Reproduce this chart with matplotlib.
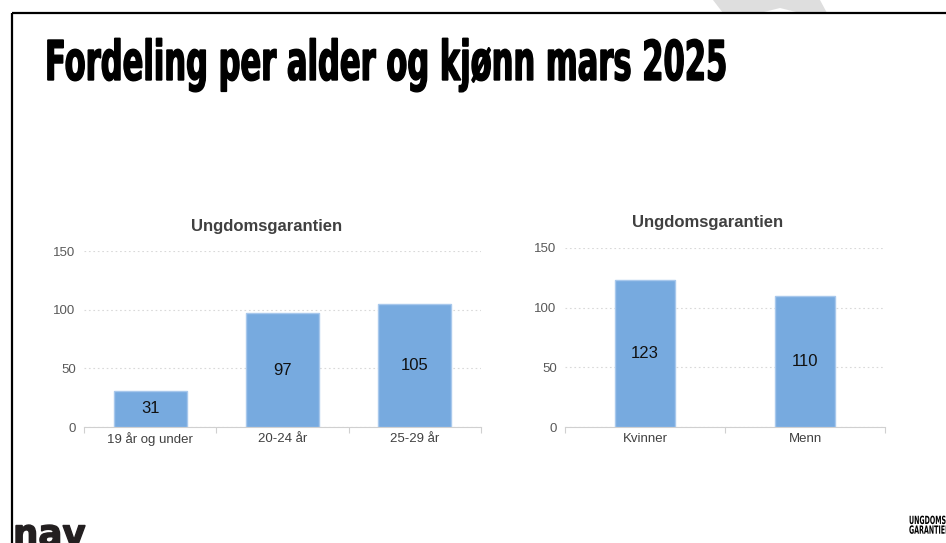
import matplotlib
matplotlib.use("Agg")
import matplotlib.pyplot as plt, numpy as np
from matplotlib.patheffects import AbstractPathEffect
from matplotlib.transforms import Affine2D

# data
alder_kat = ["19 år og under", "20-24 år", "25-29 år"]
alder_ant = [31, 97, 105]
kjonn_kat = ["Kvinner", "Menn"]
kjonn_ant = [123, 110]
y_ticks = [0, 50, 100, 150]
tittel = "Fordeling per alder og kjønn mars 2025"
diagram_tittel = "Ungdomsgarantien"

W, H = 946, 543
plt.rcParams["font.family"] = ["Liberation Sans", "DejaVu Sans"]

fig = plt.figure(figsize=(W / 100, H / 100), dpi=100)


def px(x, y):  # pixel (from top-left) -> figure coords
    return x / W, 1 - y / H


class Stretch(AbstractPathEffect):
    # scale text glyphs around baseline origin (condensed display font look), optional stroke to embolden
    def __init__(self, sx, sy, lw=0):
        super().__init__()
        self.sx, self.sy, self.lw = sx, sy, lw

    def draw_path(self, renderer, gc, tpath, affine, rgbFace=None):
        x0, y0 = affine.transform((0, 0))
        aff = affine + Affine2D().translate(-x0, -y0).scale(self.sx, self.sy).translate(x0, y0)
        gc0 = renderer.new_gc()
        gc0.copy_properties(gc)
        gc0.set_linewidth(self.lw)
        gc0.set_joinstyle("miter")
        renderer.draw_path(gc0, tpath, aff, rgbFace)
        gc0.restore()


# slide decorations in a pixel-space background axes
bg = fig.add_axes([0, 0, 1, 1], zorder=-1)
bg.set_xlim(0, W)
bg.set_ylim(H, 0)
bg.axis("off")
bg.fill([713, 820, 827, 800, 780, 760, 723], [0, 0, 13, 13, 8, 13, 13], color="#dedede", lw=0)
bg.plot([12, W], [13, 13], color="black", lw=1.6, solid_capstyle="butt")
bg.plot([12, 12], [13, H], color="black", lw=1.6, solid_capstyle="butt")

# title, stretched vertically
t = fig.text(*px(45, 80), tittel, fontsize=26, fontweight="bold", family="DejaVu Sans", va="baseline", ha="left")
fig.canvas.draw()
bb = t.get_window_extent()
t.set_path_effects([Stretch(683 / bb.width, 1.52, lw=1.0)])

fig.text(*px(13, 546), "nav", fontsize=27, fontweight="bold", family="DejaVu Sans", color="#231f20",
         va="baseline", ha="left", path_effects=[Stretch(0.95, 1.0, lw=1.0)])
fig.text(*px(909, 517), "UNGDOMS\nGARANTIEN", fontsize=6.5, fontweight="bold", family="DejaVu Sans",
         va="top", ha="left", linespacing=1.1, path_effects=[Stretch(0.7, 1.25)])


def bar_chart(rect, kat, ant, bredde, tittel_xy):
    l, top, r, bot = rect
    ax = fig.add_axes([l / W, 1 - bot / H, (r - l) / W, (bot - top) / H])
    x = np.arange(len(kat))
    bars = ax.bar(x, ant, width=bredde, color="#77aadf", edgecolor="#a8c8ec", linewidth=1, zorder=3)
    ax.bar_label(bars, labels=[str(v) for v in ant], label_type="center", fontsize=12, color="#111111")
    ax.set_xlim(-0.5, len(kat) - 0.5)
    ax.set_ylim(0, 150)
    ax.set_yticks(y_ticks)
    ax.set_xticks(x)
    ax.set_xticklabels(kat)
    ax.set_xticks(np.arange(len(kat) + 1) - 0.5, minor=True)
    ax.tick_params(axis="x", which="major", length=0, pad=4, labelsize=9.5, labelcolor="#404040")
    ax.tick_params(axis="x", which="minor", length=4, color="#d0d0d0", width=0.8)
    ax.tick_params(axis="y", length=0, pad=6, labelsize=9.5, labelcolor="#595959")
    for s in ["top", "right", "left"]:
        ax.spines[s].set_visible(False)
    ax.spines["bottom"].set_color("#d0d0d0")
    ax.spines["bottom"].set_linewidth(0.8)
    ax.yaxis.grid(True, linestyle=(0, (1.5, 2.5)), color="#d9d9d9", linewidth=0.8, zorder=0)
    ax.set_axisbelow(True)
    fig.text(*px(*tittel_xy), diagram_tittel, fontsize=12, fontweight="bold", color="#404040",
             ha="center", va="center")
    return ax


bar_chart((84, 251, 481, 427), alder_kat, alder_ant, 0.55, (267, 226))
bar_chart((565, 248, 885, 427), kjonn_kat, kjonn_ant, 0.375, (708, 223))

fig.savefig("out.png", dpi=100)
